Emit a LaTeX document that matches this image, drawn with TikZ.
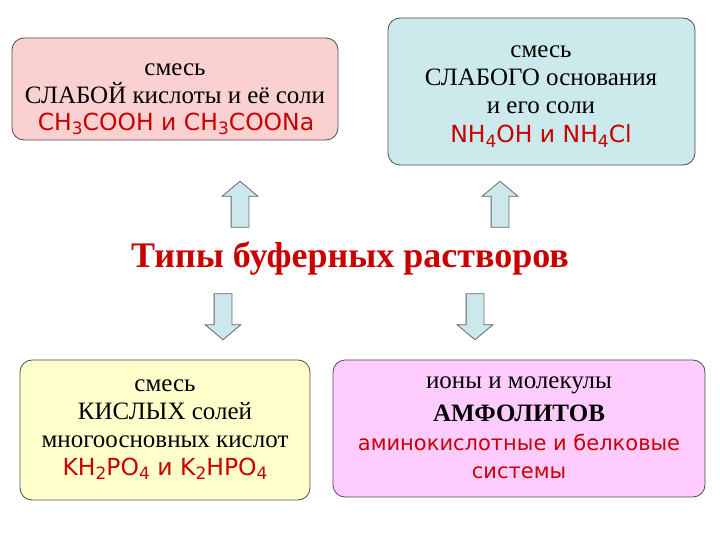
\documentclass[tikz,border=0pt]{standalone}
\usepackage{fontspec}
\setmainfont{Liberation Serif}
\newfontfamily\redf{DejaVu Sans}
\usetikzlibrary{shapes.arrows}
\definecolor{rd}{RGB}{200,0,0}
\definecolor{pk}{RGB}{250,208,208}
\definecolor{bl}{RGB}{204,234,236}
\definecolor{yl}{RGB}{255,255,204}
\definecolor{mg}{RGB}{255,204,255}
\definecolor{ar}{RGB}{204,232,236}
\newcommand{\sbs}[1]{\raisebox{-0.35ex}{\fontsize{17}{20}\selectfont #1}}
\begin{document}
\begin{tikzpicture}[x=1pt,y=-1pt,
 box/.style={draw=black!70,line width=0.8pt,rounded corners=12pt},
 txt/.style={align=center,font=\fontsize{25}{28}\selectfont},
 chem/.style={text=rd,font=\redf\fontsize{23.5}{28}\selectfont},
 blk/.style={single arrow,draw=black!60,fill=ar,line width=0.8pt,inner sep=8.5pt,single arrow head extend=9pt,single arrow tip angle=100,minimum height=46pt,single arrow head indent=0pt}]
\useasboundingbox (0,0) rectangle (720,540);
\draw[box,fill=pk] (12,38) rectangle (338,140);
\draw[box,fill=bl] (388,18) rectangle (695,165);
\draw[box,fill=yl] (20,360) rectangle (310,500);
\draw[box,fill=mg] (333,360) rectangle (705,497);
\node[txt] (t1) at (175,84) {смесь\\СЛАБОЙ кислоты и её соли};
\node[chem] (c1) at (176,124) {CH\sbs{3}COOH и CH\sbs{3}COONa};
\node[txt] (t2) at (541,80) {смесь\\СЛАБОГО основания\\и его соли};
\node[chem] (c2) at (541,136) {NH\sbs{4}OH и NH\sbs{4}Cl};
\node[txt] (t3) at (165,414) {смесь\\КИСЛЫХ солей\\многоосновных кислот};
\node[chem] (c3) at (165,469) {KH\sbs{2}PO\sbs{4} и K\sbs{2}HPO\sbs{4}};
\node[txt] (t4a) at (519,385) {ионы и молекулы};
\node[txt,font=\bfseries\fontsize{25}{31}\selectfont] (t4b) at (519,413) {АМФОЛИТОВ};
\node[chem,align=center,font=\redf\fontsize{21}{28}\selectfont] (c4) at (519,456) {аминокислотные и белковые\\системы};
\node[text=rd,font=\bfseries\fontsize{36}{40}\selectfont] (title) at (350,258) {Типы буферных растворов};
\node[blk,rotate=90] (a1) at (240,208) {};
\node[blk,rotate=90] (a2) at (500,208) {};
\node[blk,rotate=-90] (a3) at (223,313) {};
\node[blk,rotate=-90] (a4) at (475,313) {};
\end{tikzpicture}
\end{document}
